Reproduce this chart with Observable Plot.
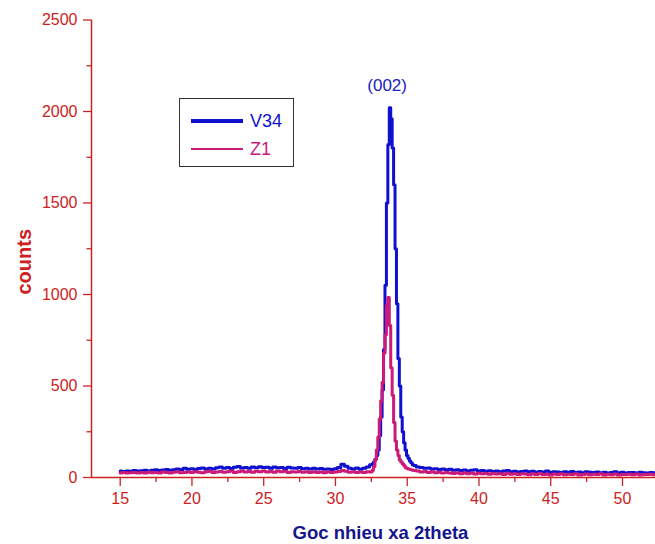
<!DOCTYPE html>
<html>
<head>
<meta charset="utf-8">
<script src="https://cdn.jsdelivr.net/npm/d3@7"></script>
<script src="https://cdn.jsdelivr.net/npm/@observablehq/plot@0.6"></script>
<style>
  html, body { margin: 0; padding: 0; background: #fff; }
  #wrap { position: relative; width: 655px; height: 544px; }
  #legend {
    position: absolute; left: 179px; top: 98px; width: 115px; height: 69px;
    border: 1.3px solid #333; background: #fff; box-sizing: border-box;
    font-family: "Liberation Sans", Arial, sans-serif; font-size: 18px;
  }
  .lg-row { position: absolute; left: 11px; display: flex; align-items: center; line-height: 1; }
  .lg-line { width: 52px; margin-right: 7px; }
</style>
</head>
<body>
<div id="wrap"></div>
<script>
// 2theta sampling angles (degrees)
const angle = [
  15, 15.25, 15.5, 15.75, 16, 16.25, 16.5, 16.75, 17, 17.25,
  17.5, 17.75, 18, 18.25, 18.5, 18.75, 19, 19.25, 19.5, 19.75,
  20, 20.25, 20.5, 20.75, 21, 21.25, 21.5, 21.75, 22, 22.25,
  22.5, 22.75, 23, 23.25, 23.5, 23.75, 24, 24.25, 24.5, 24.75,
  25, 25.25, 25.5, 25.75, 26, 26.25, 26.5, 26.75, 27, 27.25,
  27.5, 27.75, 28, 28.25, 28.5, 28.75, 29, 29.25, 29.5, 29.75,
  30, 30.25, 30.5, 30.75, 31, 31.25, 31.5, 31.75, 32, 32.25,
  32.5, 32.6, 32.7, 32.8, 32.9, 33.0, 33.1, 33.2, 33.3, 33.4,
  33.5, 33.6, 33.7, 33.8, 33.9, 34.0, 34.1, 34.2, 34.3, 34.4,
  34.5, 34.6, 34.7, 34.8, 34.9, 35.0, 35.1, 35.2, 35.3, 35.4,
  35.5,
  35.75, 36, 36.25, 36.5, 36.75, 37, 37.25, 37.5, 37.75, 38,
  38.25, 38.5, 38.75, 39, 39.25, 39.5, 39.75, 40, 40.25, 40.5,
  40.75, 41, 41.25, 41.5, 41.75, 42, 42.25, 42.5, 42.75, 43,
  43.25, 43.5, 43.75, 44, 44.25, 44.5, 44.75, 45, 45.25, 45.5,
  45.75, 46, 46.25, 46.5, 46.75, 47, 47.25, 47.5, 47.75, 48,
  48.25, 48.5, 48.75, 49, 49.25, 49.5, 49.75, 50, 50.25, 50.5,
  50.75, 51, 51.25, 51.5, 51.75, 52, 52.25
];

// Series V34 counts
const v34 = [
  35, 33, 36, 34, 38, 35, 37, 40, 36, 39,
  42, 38, 41, 44, 40, 43, 47, 42, 50, 45,
  48, 44, 49, 52, 47, 50, 46, 53, 58, 50,
  54, 49, 56, 60, 52, 55, 50, 57, 53, 59,
  54, 56, 51, 58, 53, 55, 49, 56, 52, 50,
  54, 48, 51, 47, 50, 46, 49, 45, 47, 44,
  48, 55, 72, 62, 50, 46, 52, 45, 50, 58,
  70, 75, 85, 100, 120, 150, 230, 330, 480, 700,
  1050, 1500, 1820, 2021, 1960, 1800, 1600, 1250, 950, 650,
  500, 330, 250, 190, 150, 120, 105, 90, 80, 70,
  65,
  58, 55, 50, 52, 46, 48, 44, 47, 42, 45,
  40, 43, 38, 41, 36, 39, 42, 35, 38, 34,
  37, 33, 36, 32, 35, 38, 31, 34, 30, 33,
  36, 31, 34, 29, 33, 30, 35, 28, 32, 30,
  27, 31, 29, 33, 28, 30, 26, 32, 29, 27,
  30, 26, 29, 25, 28, 31, 26, 29, 24, 28,
  27, 24, 29, 26, 25, 28, 26
];

// Series Z1 counts
const z1 = [
  25, 27, 24, 26, 28, 25, 27, 24, 29, 26,
  28, 25, 30, 27, 24, 29, 31, 26, 28, 30,
  27, 32, 29, 26, 31, 34, 28, 30, 33, 29,
  31, 35, 28, 32, 36, 30, 33, 29, 34, 31,
  36, 30, 33, 29, 35, 31, 34, 28, 32, 30,
  33, 29, 31, 27, 32, 28, 30, 26, 31, 28,
  30, 33, 38, 34, 29, 31, 27, 30, 28, 32,
  30, 40, 60, 100, 150, 220, 320, 420, 520, 680,
  780, 940, 984, 830, 600, 450, 300, 200, 150, 120,
  95, 85, 75, 65, 55, 50, 47, 45, 42, 40,
  38,
  35, 30, 33, 28, 31, 26, 29, 24, 27, 25,
  22, 26, 20, 24, 21, 25, 19, 23, 20, 22,
  18, 22, 19, 21, 17, 23, 18, 20, 16, 21,
  19, 15, 20, 17, 22, 16, 18, 14, 19, 17,
  20, 15, 18, 16, 21, 14, 17, 19, 15, 18,
  16, 20, 14, 18, 15, 19, 13, 17, 16, 18,
  15, 19, 14, 17, 16, 18, 15
];

const seriesNames = ["V34", "Z1"];
const xTicks = [15, 20, 25, 30, 35, 40, 45, 50];
const xMinorTicks = [17.5, 22.5, 27.5, 32.5, 37.5, 42.5, 47.5];
const yTicks = [0, 500, 1000, 1500, 2000, 2500];
const yMinorTicks = [250, 750, 1250, 1750, 2250];
const xDomain = [13, 52.3];
const yDomain = [0, 2500];
const peakLabel = ["(002)"];
const peakLabelAngle = [33.6];
const peakLabelCount = [2140];
const xTitle = "Goc nhieu xa 2theta";
const yTitle = "counts";

const RED = "#cc2222";
const BLUE = "#1010d0";
const MAG = "#cc1a78";

const dataV = angle.map((a, i) => ({angle: a, count: v34[i]}));
const dataZ = angle.map((a, i) => ({angle: a, count: z1[i]}));

const fmt = d => String(d);

const chart = Plot.plot({
  width: 655,
  height: 544,
  marginLeft: 91,
  marginRight: 0,
  marginTop: 19.5,
  marginBottom: 67,
  x: {domain: xDomain},
  y: {domain: yDomain},
  style: {
    fontFamily: "'Liberation Sans', Arial, sans-serif",
    fontSize: "16px",
    color: RED,
    background: "#fff",
    overflow: "visible"
  },
  marks: [
    Plot.axisY({ticks: yTicks, tickFormat: fmt, tickSize: 8, tickPadding: 6, label: null, strokeWidth: 1.3, fontSize: 16}),
    Plot.axisY({ticks: yMinorTicks, tickSize: 4.5, text: null, label: null, strokeWidth: 1.3}),
    Plot.axisX({ticks: xTicks, tickFormat: fmt, tickSize: 9, tickPadding: 6, label: null, strokeWidth: 1.3, fontSize: 16}),
    Plot.axisX({ticks: xMinorTicks, tickSize: 5, text: null, label: null, strokeWidth: 1.3}),
    Plot.ruleX([xDomain[0]], {stroke: RED, strokeWidth: 1.5}),
    Plot.ruleY([0], {stroke: RED, strokeWidth: 1.5}),
    Plot.line(dataV, {x: "angle", y: "count", curve: "step", stroke: BLUE, strokeWidth: 3}),
    Plot.line(dataZ, {x: "angle", y: "count", curve: "step", stroke: MAG, strokeWidth: 3}),
    Plot.text(peakLabel, {x: peakLabelAngle, y: peakLabelCount, text: d => d, fill: "#2020c0", fontSize: 17}),
    Plot.text([yTitle], {frameAnchor: "left", textAnchor: "middle", rotate: -90, dx: -67, dy: 13, text: d => d, fill: RED, fontSize: 20, fontWeight: "bold"}),
    Plot.text([xTitle], {frameAnchor: "bottom", textAnchor: "middle", dx: 7, dy: 61, text: d => d, fill: "#14148c", fontSize: 18.5, fontWeight: "bold"})
  ]
});

document.getElementById("wrap").appendChild(chart);

// Legend
const legend = document.createElement("div");
legend.id = "legend";
const colors = [BLUE, MAG];
const tops = [13, 41];
const widths = [3.5, 2.2];
seriesNames.forEach((name, i) => {
  const row = document.createElement("div");
  row.className = "lg-row";
  row.style.top = tops[i] + "px";
  const ln = document.createElement("div");
  ln.className = "lg-line";
  ln.style.height = widths[i] + "px";
  ln.style.background = colors[i];
  const tx = document.createElement("span");
  tx.textContent = name;
  tx.style.color = colors[i];
  row.appendChild(ln);
  row.appendChild(tx);
  legend.appendChild(row);
});
document.getElementById("wrap").appendChild(legend);
</script>
</body>
</html>
